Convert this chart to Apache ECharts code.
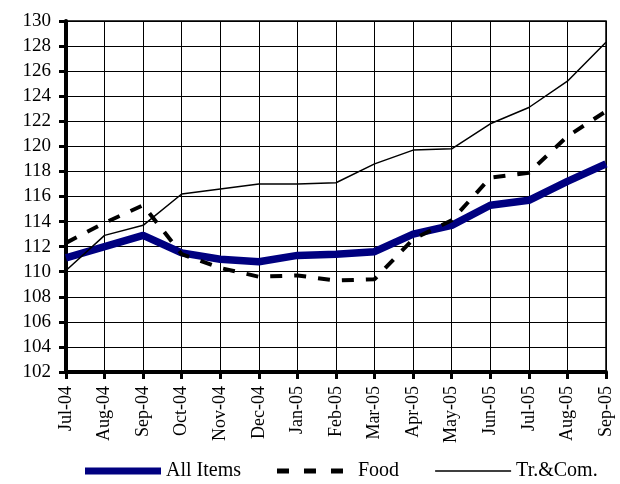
<!DOCTYPE html>
<html>
<head>
<meta charset="utf-8">
<script src="https://cdn.jsdelivr.net/npm/echarts@6/dist/echarts.min.js"></script>
<style>html,body{margin:0;padding:0;background:#fff}#c{width:620px;height:484px}</style>
</head>
<body>
<div id="c"></div>
<script>
const categories = ['Jul-04','Aug-04','Sep-04','Oct-04','Nov-04','Dec-04','Jan-05','Feb-05','Mar-05','Apr-05','May-05','Jun-05','Jul-05','Aug-05','Sep-05'];
const allItems = [111.1, 112.0, 112.9, 111.5, 111.0, 110.8, 111.3, 111.4, 111.6, 113.0, 113.7, 115.3, 115.7, 117.2, 118.6];
const food = [112.3, 113.9, 115.3, 111.4, 110.3, 109.6, 109.7, 109.3, 109.4, 112.6, 114.1, 117.5, 117.9, 120.8, 122.8];
const trCom = [110.1, 112.9, 113.7, 116.2, 116.6, 117.0, 117.0, 117.1, 118.6, 119.7, 119.8, 121.8, 123.1, 125.2, 128.3];
const seriesNames = ['All Items', 'Food', 'Tr.&Com.'];

const font = 'Liberation Serif, Times New Roman, serif';
const anchors = 'M0,0H0.05V0.05H0Z M75.95,13.95H76V14H75.95Z ';
const iconAll = 'path://' + anchors + 'M0,3.5H76V10.5H0Z';
const iconFood = 'path://' + anchors + 'M0,4.5H12V9.5H0Z M27,4.5H39V9.5H27Z M54,4.5H66V9.5H54Z';
const iconTr = 'path://' + anchors + 'M0,6.3H76V7.7H0Z';

const chart = echarts.init(document.getElementById('c'));
chart.setOption({
  animation: false,
  backgroundColor: '#fff',
  grid: { left: 66, right: 14, top: 21, bottom: 112, show: true, borderColor: '#000', borderWidth: 1.5, backgroundColor: 'transparent' },
  legend: {
    left: 80, top: 456,
    itemWidth: 76, itemHeight: 14, itemGap: 36,
    symbolKeepAspect: false,
    textStyle: { fontFamily: font, fontSize: 20, color: '#000' },
    data: [
      { name: seriesNames[0], icon: iconAll, itemStyle: { color: '#000080' } },
      { name: seriesNames[1], icon: iconFood, itemStyle: { color: '#000' } },
      { name: seriesNames[2], icon: iconTr, itemStyle: { color: '#000' } }
    ]
  },
  xAxis: {
    type: 'category', data: categories, boundaryGap: false,
    axisLine: { lineStyle: { color: '#000', width: 4 } },
    axisTick: { show: true, interval: 0, length: 7, lineStyle: { color: '#000', width: 3 } },
    axisLabel: { interval: 0, rotate: 90, margin: 14, color: '#000', fontFamily: font, fontSize: 18 },
    splitLine: { show: true, interval: 0, lineStyle: { color: '#000', width: 1 } }
  },
  yAxis: {
    type: 'value', min: 102, max: 130, interval: 2,
    axisLine: { show: true, lineStyle: { color: '#000', width: 4 } },
    axisTick: { show: true, length: 7, lineStyle: { color: '#000', width: 3 } },
    axisLabel: { margin: 15, color: '#000', fontFamily: font, fontSize: 19 },
    splitLine: { show: true, lineStyle: { color: '#000', width: 1 } }
  },
  series: [
    { name: seriesNames[0], type: 'line', data: allItems, symbol: 'none', color: '#000080',
      lineStyle: { color: '#000080', width: 7.5 } },
    { name: seriesNames[1], type: 'line', data: food, symbol: 'none', color: '#000',
      lineStyle: { color: '#000', width: 4, type: [12, 12] } },
    { name: seriesNames[2], type: 'line', data: trCom, symbol: 'none', color: '#000',
      lineStyle: { color: '#000', width: 1.5 } }
  ]
});
</script>
</body>
</html>
